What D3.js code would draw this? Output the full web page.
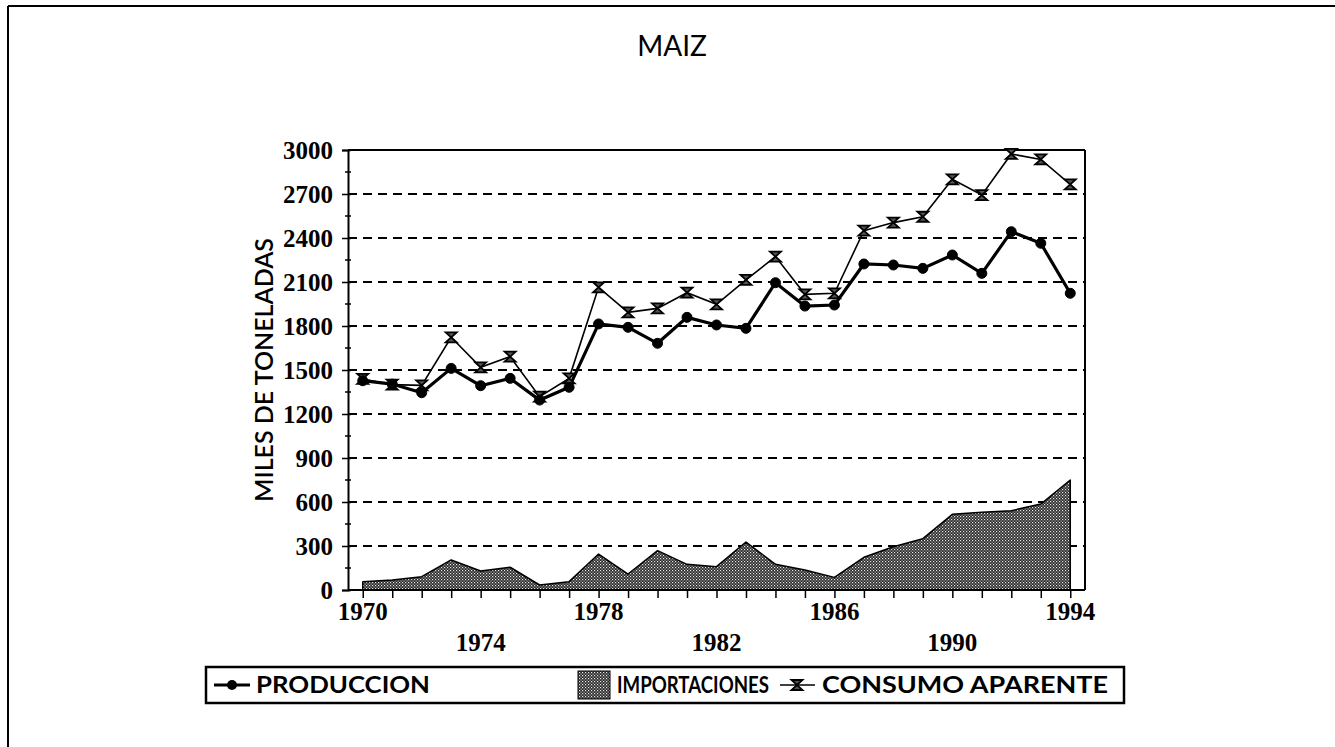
<!DOCTYPE html>
<html>
<head>
<meta charset="utf-8">
<script src="https://cdn.jsdelivr.net/npm/d3@7"></script>
<style>
html,body{margin:0;padding:0;background:#fff;}
svg{display:block;}
</style>
</head>
<body>
<svg id="chart" width="1335" height="747"></svg>
<script>
const years = [1970,1971,1972,1973,1974,1975,1976,1977,1978,1979,1980,1981,1982,1983,1984,1985,1986,1987,1988,1989,1990,1991,1992,1993,1994];
const produccion = [1427,1404,1345,1511,1393,1443,1295,1382,1814,1791,1682,1859,1807,1784,2095,1936,1943,2223,2216,2193,2284,2159,2443,2364,2023];
const importaciones = [57,68,91,205,130,155,34,57,245,109,268,175,159,327,175,136,86,223,295,350,516,530,541,586,750];
const consumo = [1439,1400,1395,1723,1518,1591,1318,1443,2064,1893,1920,2027,1948,2114,2273,2016,2023,2450,2505,2545,2800,2693,2973,2936,2766];
const yTicks = [0,300,600,900,1200,1500,1800,2100,2400,2700,3000];
const xLabelYears = [1970,1974,1978,1982,1986,1990,1994];
const seriesNames = ["PRODUCCION","IMPORTACIONES","CONSUMO APARENTE"];
const titleText = "MAIZ";
const yAxisTitle = "MILES DE TONELADAS";

const svg = d3.select("#chart");
const L = 348, R = 1085, T = 150, B = 590;

const x = d3.scalePoint().domain(years).range([L, R]).padding(0.5);
const y = d3.scaleLinear().domain([0, 3000]).range([B, T]);

// pattern
const defs = svg.append("defs");
const pat = defs.append("pattern").attr("id","hatch").attr("patternUnits","userSpaceOnUse")
  .attr("width",3).attr("height",3);
pat.append("rect").attr("width",3).attr("height",3).attr("fill","#2a2a2a");
pat.append("rect").attr("x",0).attr("y",0).attr("width",1.2).attr("height",1.2).attr("fill","#e8e8e8");
pat.append("rect").attr("x",1.5).attr("y",1.5).attr("width",1.2).attr("height",1.2).attr("fill","#bbb");

// outer frame: top and left lines
svg.append("line").attr("x1",8).attr("x2",1335).attr("y1",6).attr("y2",6).attr("stroke","#000").attr("stroke-width",2);
svg.append("line").attr("x1",8).attr("x2",8).attr("y1",6).attr("y2",747).attr("stroke","#000").attr("stroke-width",2);

// title
svg.append("text").attr("x",672).attr("y",56).attr("text-anchor","middle")
  .attr("font-family","Lato, 'Open Sans', sans-serif").attr("font-size",28).attr("fill","#000")
  .text(titleText);

// gridlines
svg.append("g").selectAll("line").data(yTicks.filter(d => d > 0 && d < 3000)).join("line")
  .attr("x1", L).attr("x2", R).attr("y1", d => y(d)).attr("y2", d => y(d))
  .attr("stroke","#000").attr("stroke-width",1.8).attr("stroke-dasharray","9,6");

// import area
const area = d3.area().x((d,i) => x(years[i])).y0(y(0)).y1(d => y(d));
svg.append("path").datum(importaciones).attr("d", area).attr("fill","url(#hatch)")
  .attr("stroke","#000").attr("stroke-width",1.5).attr("stroke-linejoin","round");

// plot frame top & right
svg.append("line").attr("x1",L).attr("x2",R).attr("y1",T).attr("y2",T).attr("stroke","#000").attr("stroke-width",2);
svg.append("line").attr("x1",R).attr("x2",R).attr("y1",T).attr("y2",B).attr("stroke","#000").attr("stroke-width",2);

// y axis
const yAxis = d3.axisLeft(y).tickValues(yTicks).tickSize(6).tickFormat(d3.format("d"));
const gy = svg.append("g").attr("transform",`translate(${L},0)`).call(yAxis);
gy.select(".domain").attr("stroke","#000").attr("stroke-width",2);
gy.selectAll(".tick line").attr("stroke","#000").attr("stroke-width",1.5).attr("x1",3);
gy.selectAll(".tick text").attr("x",-15).attr("font-family","'Liberation Serif', 'Times New Roman', serif")
  .attr("font-weight","bold").attr("font-size",25).attr("fill","#000");
// minor ticks
const minor = d3.range(150, 3000, 300);
svg.append("g").selectAll("line").data(minor).join("line")
  .attr("x1", L-3).attr("x2", L+3).attr("y1", d => y(d)).attr("y2", d => y(d))
  .attr("stroke","#000").attr("stroke-width",1.5);

// x axis
const xAxis = d3.axisBottom(x).tickSize(8).tickFormat("");
const gx = svg.append("g").attr("transform",`translate(0,${B})`).call(xAxis);
gx.select(".domain").attr("d", `M${L},0H${R}`).attr("stroke","#000").attr("stroke-width",2);
gx.selectAll(".tick line").attr("stroke","#000").attr("stroke-width",1.5);
svg.append("g").selectAll("text").data(xLabelYears).join("text")
  .attr("x", d => x(d)).attr("y", (d,i) => i % 2 === 0 ? 620 : 651)
  .attr("text-anchor","middle")
  .attr("font-family","'Liberation Serif', 'Times New Roman', serif")
  .attr("font-weight","bold").attr("font-size",25).attr("fill","#000")
  .text(d => d);

// y axis title
svg.append("text").attr("transform","translate(273,370) rotate(-90)").attr("text-anchor","middle")
  .attr("font-family","Lato, 'Open Sans', sans-serif").attr("font-weight","600").attr("font-size",25).attr("fill","#000")
  .text(yAxisTitle);

// lines
const line = d3.line().x((d,i) => x(years[i])).y(d => y(d));
svg.append("path").datum(consumo).attr("d", line).attr("fill","none").attr("stroke","#000").attr("stroke-width",1.6);
svg.append("path").datum(produccion).attr("d", line).attr("fill","none").attr("stroke","#000").attr("stroke-width",3.2);

const hourglass = "M-5.5,-5H5.5L-5.5,5H5.5Z";
svg.append("g").selectAll("path").data(consumo).join("path")
  .attr("transform",(d,i) => `translate(${x(years[i])},${y(d)})`)
  .attr("d", hourglass).attr("fill","#555").attr("stroke","#000").attr("stroke-width",1.8);
svg.append("g").selectAll("circle").data(produccion).join("circle")
  .attr("cx",(d,i) => x(years[i])).attr("cy", d => y(d)).attr("r",5)
  .attr("fill","#000").attr("stroke","#000").attr("stroke-width",1);

// legend
const lg = svg.append("g");
lg.append("rect").attr("x",206).attr("y",667).attr("width",918).attr("height",36)
  .attr("fill","#fff").attr("stroke","#000").attr("stroke-width",2.5);
const ly = 685;
const lfont = "Lato, 'Open Sans', sans-serif";
// produccion
lg.append("line").attr("x1",214).attr("x2",250).attr("y1",ly).attr("y2",ly).attr("stroke","#000").attr("stroke-width",3.2);
lg.append("circle").attr("cx",232).attr("cy",ly).attr("r",5).attr("fill","#000");
lg.append("text").attr("x",256).attr("y",ly+8).attr("font-family",lfont).attr("font-weight","bold")
  .attr("font-size",22).attr("textLength",174).attr("lengthAdjust","spacingAndGlyphs").text(seriesNames[0]);
// importaciones
lg.append("rect").attr("x",578).attr("y",671).attr("width",32).attr("height",28).attr("fill","url(#hatch)").attr("stroke","#000").attr("stroke-width",1);
lg.append("text").attr("x",617).attr("y",ly+8).attr("font-family",lfont).attr("font-weight","bold")
  .attr("font-size",22).attr("textLength",152).attr("lengthAdjust","spacingAndGlyphs").text(seriesNames[1]);
// consumo
lg.append("line").attr("x1",780).attr("x2",815).attr("y1",ly).attr("y2",ly).attr("stroke","#000").attr("stroke-width",1.6);
lg.append("path").attr("transform",`translate(797,${ly})`).attr("d",hourglass).attr("fill","#555").attr("stroke","#000").attr("stroke-width",1.8);
lg.append("text").attr("x",822).attr("y",ly+8).attr("font-family",lfont).attr("font-weight","bold")
  .attr("font-size",22).attr("textLength",286).attr("lengthAdjust","spacingAndGlyphs").text(seriesNames[2]);
</script>
</body>
</html>
